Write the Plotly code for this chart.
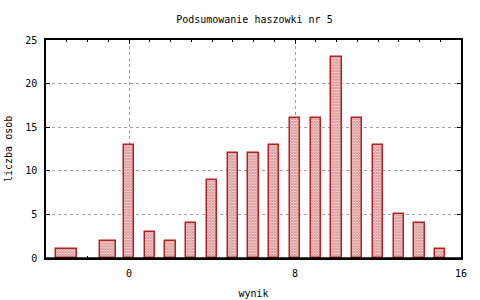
import plotly.graph_objects as go

wynik = [-3, -1, 0, 1, 2, 3, 4, 5, 6, 7, 8, 9, 10, 11, 12, 13, 14, 15]
liczba_osob = [1, 2, 13, 3, 2, 4, 9, 12, 12, 13, 16, 16, 23, 16, 13, 5, 4, 1]

# gnuplot-style relative box widths (0.5 of neighbour spacing)
widths = []
n = len(wynik)
for i in range(n):
    if i == 0:
        d = wynik[1] - wynik[0]
    elif i == n - 1:
        d = wynik[-1] - wynik[-2]
    else:
        d = (wynik[i + 1] - wynik[i - 1]) / 2
    widths.append(0.5 * d)

RED = "#b22222"
FONT = "DejaVu Sans Mono"

fig = go.Figure(go.Bar(
    x=wynik, y=liczba_osob, width=widths,
    marker=dict(color="white",
                line=dict(color=RED, width=1.5),
                pattern=dict(shape="x", fgcolor=RED, bgcolor="white", size=2, solidity=0.75)),
))

fig.update_layout(
    width=480, height=300,
    margin=dict(l=46, r=19, t=40, b=42),
    paper_bgcolor="white", plot_bgcolor="white",
    showlegend=False,
    bargap=0,
    font=dict(family=FONT, size=10, color="black"),
    title=dict(text="Podsumowanie haszowki nr 5", x=0.53, xanchor="center", y=0.935, yanchor="middle",
               font=dict(family=FONT, size=10, color="black")),
    shapes=[dict(type="line", xref="paper", yref="paper", x0=0, x1=1, y0=0, y1=0,
                 line=dict(color="black", width=1.5), layer="above")],
    annotations=[dict(text="liczba osob", xref="paper", yref="paper", x=0, y=0.5,
                      xanchor="center", yanchor="middle", xshift=-38, textangle=-90,
                      showarrow=False, font=dict(family=FONT, size=10, color="black"))],
)
fig.update_xaxes(
    range=[-4, 16], tick0=0, dtick=8, showline=True, linecolor="black", linewidth=1.5,
    mirror="ticks", ticks="inside", ticklen=4, tickcolor="black", layer="below traces",
    showgrid=True, gridcolor="#a0a0a0", griddash="3px,3px", gridwidth=1, zeroline=False,
    minor=dict(dtick=1, tick0=0, ticks="inside", ticklen=2, tickcolor="black", showgrid=False),
    title=dict(text="wynik", standoff=12, font=dict(family=FONT, size=10)),
    tickfont=dict(family=FONT, size=10), ticklabelstandoff=5, automargin=False,
)
fig.update_yaxes(
    range=[0, 25], dtick=5, showline=True, linecolor="black", linewidth=1.5,
    mirror="ticks", ticks="inside", ticklen=4, tickcolor="black",
    showgrid=True, gridcolor="#a0a0a0", griddash="3px,3px", gridwidth=1, zeroline=False,
    tickfont=dict(family=FONT, size=10), ticklabelstandoff=5, automargin=False,
)

fig.write_html("out.html")
